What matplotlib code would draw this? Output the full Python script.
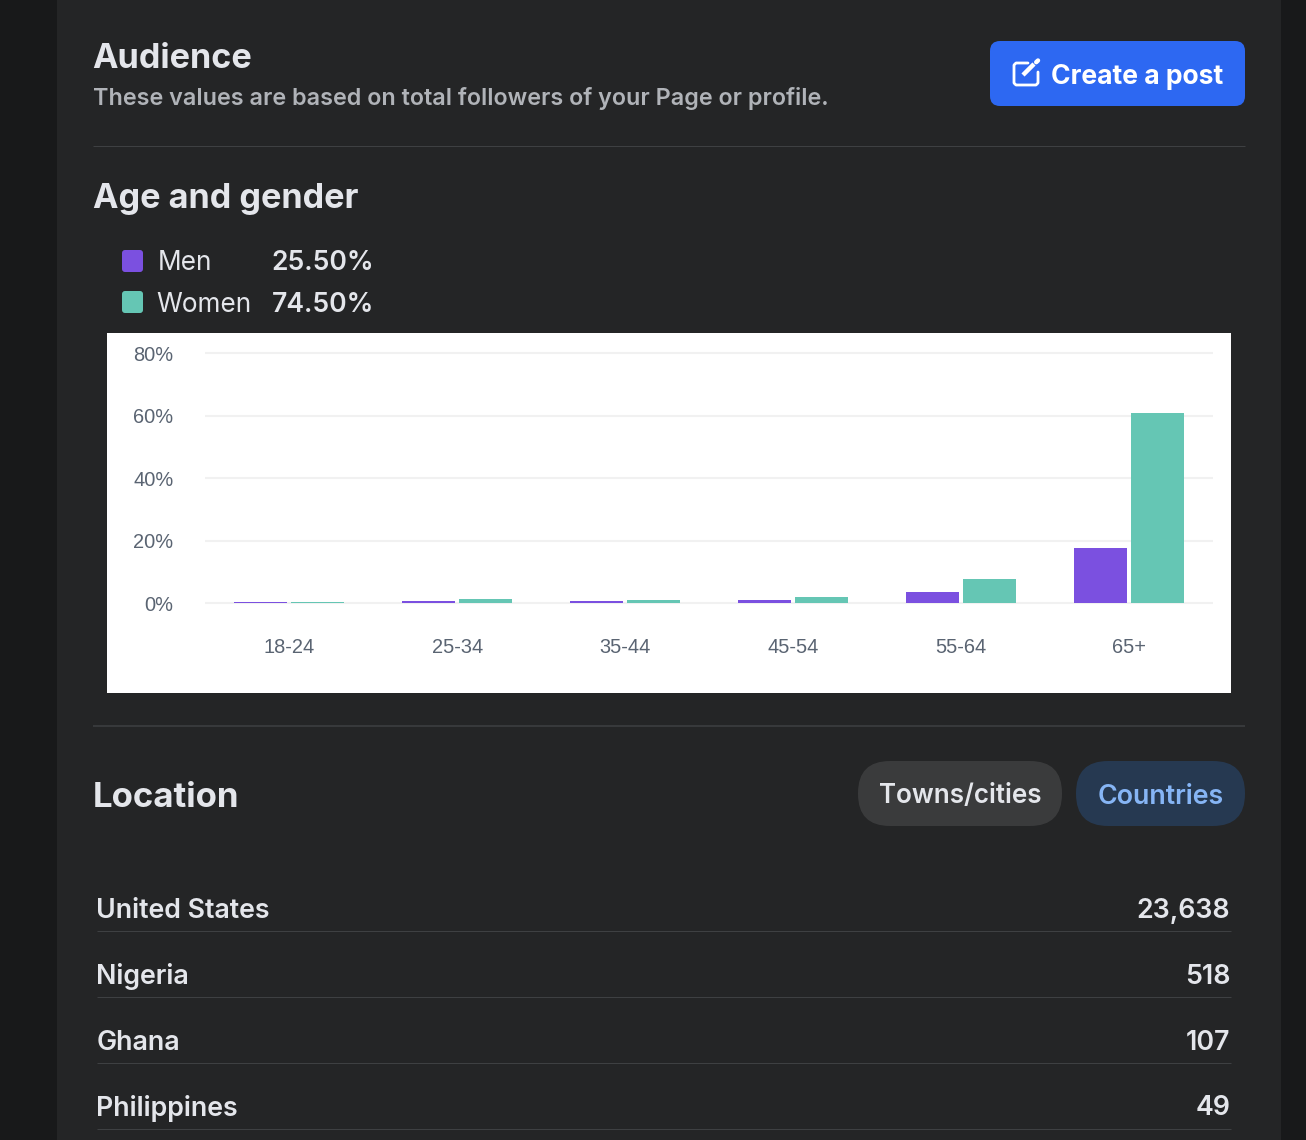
import matplotlib
matplotlib.use("Agg")
import matplotlib.pyplot as plt
from matplotlib.patches import FancyBboxPatch, Rectangle

plt.rcParams["font.family"] = ["Inter", "DejaVu Sans"]

# Data
age_groups = ["18-24", "25-34", "35-44", "45-54", "55-64", "65+"]
men = [0.5, 0.8, 0.6, 1.0, 3.7, 17.6]
women = [0.4, 1.5, 1.0, 2.0, 7.6, 60.8]
y_ticks = [0, 20, 40, 60, 80]
legend_names = ["Men", "Women"]
legend_values = ["25.50%", "74.50%"]
countries = ["United States", "Nigeria", "Ghana", "Philippines"]
followers = ["23,638", "518", "107", "49"]

W, H = 1306, 1140
PURPLE = "#7b50e0"
TEAL = "#65c6b4"
LIGHT = "#e4e6eb"

fig = plt.figure(figsize=(W / 100, H / 100), dpi=100, facecolor="#18191a")

# Background layer in pixel coordinates
ui = fig.add_axes([0, 0, 1, 1])
ui.set_xlim(0, W)
ui.set_ylim(H, 0)
ui.axis("off")


def box(x, y, w, h, color, r=0, z=1):
    ui.add_patch(FancyBboxPatch((x + r, y + r), w - 2 * r, h - 2 * r, boxstyle=f"round,pad={r},rounding_size={r}",
                                fc=color, ec="none", zorder=z))


def label(x, y, s, size, color=LIGHT, weight="normal", ha="left"):
    ui.text(x, y, s, fontsize=size * 0.72, color=color, fontweight=weight, ha=ha, va="center_baseline", zorder=5)


def rule(y, x0=93, x1=1245, color="#3e4042", lw=1.0):
    ui.plot([x0, x1], [y, y], color=color, lw=lw * 0.72, solid_capstyle="butt", zorder=2)


ui.add_patch(Rectangle((57, 0), 1224, H, fc="#242526", ec="none", zorder=0))

# Header
label(92.5, 55, "Audience", 34.2, weight="bold")
label(93, 96.5, "These values are based on total followers of your Page or profile.", 23.35, color="#b0b3b8", weight="semibold")
box(990, 41, 255, 65, "#2d68f2", r=10)
label(1051, 73.5, "Create a post", 26.5, color="white", weight="bold")

# Pencil icon on the button
ui.plot([1028, 1016, 1014, 1014, 1016, 1036, 1038, 1038], [63, 63, 65, 83, 85, 85, 83, 72],
        color="white", lw=2.0, solid_capstyle="round", solid_joinstyle="round", zorder=5)
ui.plot([1023, 1034], [75, 64], color="white", lw=3.2, solid_capstyle="butt", zorder=5)
ui.plot([1036.2, 1038], [62.2, 60.5], color="white", lw=3.2, solid_capstyle="round", zorder=5)
rule(146)

# Age and gender section
label(93, 195.5, "Age and gender", 34.2, weight="bold")
for i, (name, value, color) in enumerate(zip(legend_names, legend_values, [PURPLE, TEAL])):
    y = 261 + i * 41
    box(122, y - 11, 21, 22, color, r=3)
    label(158 - i * 1.2, y - 0.5, name, 26.2)
    label(374, y - 0.5, value, 26.5, weight="semibold", ha="right")

ui.add_patch(Rectangle((107, 333), 1124, 360, fc="white", ec="none", zorder=1))
rule(726, color="#3e4042", lw=1.5)

# Location section
label(93, 794.5, "Location", 34.8, weight="bold")
box(858, 761, 204, 65, "#3a3b3c", r=32)
label(960, 793.5, "Towns/cities", 26, weight="semibold", ha="center")
box(1076, 761, 169, 65, "#263951", r=32)
label(1160.5, 793.5, "Countries", 26.8, color="#86b5f5", weight="semibold", ha="center")

row_y = [908, 974, 1040, 1105]
rule_y = [930.5, 996.5, 1062.5, 1128.5]
for country, count, y, ry in zip(countries, followers, row_y, rule_y):
    label(96.5, y, country, 26.8, weight="semibold")
    label(1230.5, y, count, 26.8, weight="semibold", ha="right")
    rule(ry, x0=97, x1=1231)

# Bar chart
ax = fig.add_axes([205.2 / W, 1 - 603.2 / H, 1008 / W, 250 / H], facecolor="none")
xpos = list(range(len(age_groups)))
bar_w = 53.5 / 168
offset = 28.5 / 168
ax.bar([p - offset for p in xpos], men, width=bar_w, color=PURPLE, zorder=3, label="Men")
ax.bar([p + offset for p in xpos], women, width=bar_w, color=TEAL, zorder=3, label="Women")
ax.set_xlim(-0.5, 5.5)
ax.set_ylim(0, 80)
ax.set_yticks(y_ticks)
ax.set_yticklabels([f"{t}%" for t in y_ticks], family="Liberation Sans")
ax.set_xticks(xpos)
ax.set_xticklabels(age_groups, family="Liberation Sans")
ax.tick_params(axis="both", length=0, labelsize=20 * 0.72, labelcolor="#5a6472")
ax.tick_params(axis="y", pad=23)
ax.tick_params(axis="x", pad=25)
ax.grid(axis="y", color="#f1f1f1", lw=1.5, zorder=0)
for gl in ax.get_ygridlines():
    gl.set_clip_on(False)
    gl.set_solid_capstyle("butt")
for s in ax.spines.values():
    s.set_visible(False)

fig.savefig("out.png", dpi=100, facecolor=fig.get_facecolor())
